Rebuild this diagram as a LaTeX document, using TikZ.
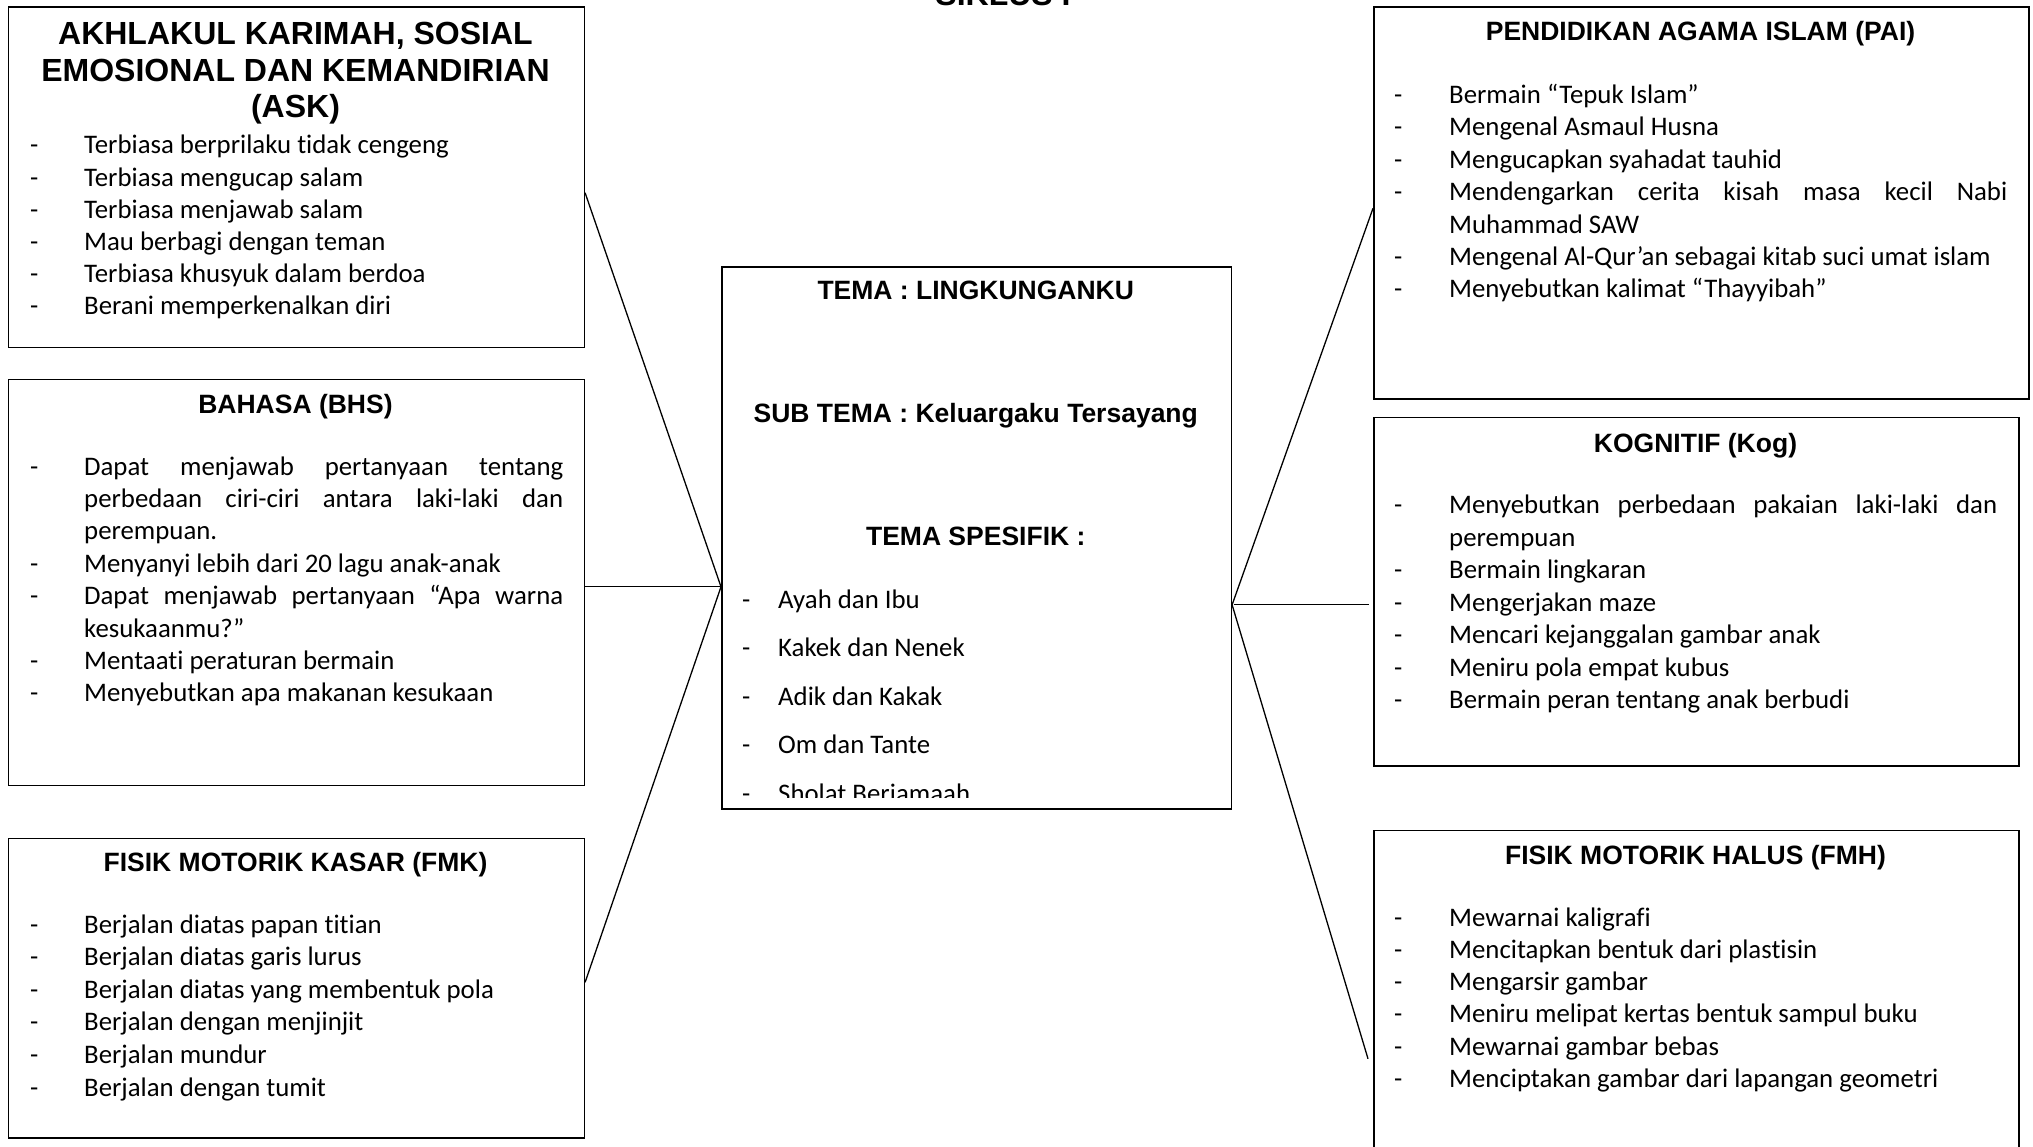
\documentclass[tikz,border=0pt]{standalone}
\usepackage{fontspec}
\setmainfont{Carlito}[Ligatures=NoCommon]
\newfontfamily\headfont{Liberation Sans}
\newlength\dw
\newcommand\itm[1]{\makebox[\dw][l]{-}#1\par}
\newcommand\jitm[2]{\makebox[\dw][l]{-}\makebox[#1][s]{#2}\par}
\newcommand\jcnt[2]{\hspace*{\dw}\makebox[#1][s]{#2}\par}
\newcommand\cnt[1]{\hspace*{\dw}#1\par}
\tikzset{
  box/.style={draw, line width=1.6pt, inner sep=0pt, anchor=north west},
  conn/.style={line width=1.3pt},
  head/.style={font=\headfont\bfseries\fontsize{26.5}{30}\selectfont, inner sep=0pt, anchor=base},
  bighead/.style={font=\headfont\bfseries\fontsize{32}{36.5}\selectfont, inner sep=0pt, anchor=base},
  txt/.style={inner sep=0pt, anchor=base west},
}
\begin{document}
\begin{tikzpicture}[x=1pt,y=-1pt]
\clip (0,0) rectangle (2033,1147);
\fill[white] (0,0) rectangle (2033,1147);

% title (cut off at the top, as in the reference)
\node[bighead] (title) at (1003,5.5) {SIKLUS I};

% boxes
\node[box, minimum width=576pt, minimum height=340.5pt] (ask) at (7.5,6) {};
\node[box, minimum width=576pt, minimum height=406pt] (bhs) at (7.5,378.5) {};
\node[box, minimum width=576pt, minimum height=299.5pt] (fmk) at (7.5,837.5) {};
\node[box, minimum width=509.5pt, minimum height=542pt] (ctr) at (721,266) {};
\node[box, minimum width=655pt, minimum height=391.5pt] (pai) at (1373,6.5) {};
\node[box, minimum width=645pt, minimum height=348.5pt] (kog) at (1373,416.5) {};
\node[box, minimum width=645pt, minimum height=400pt] (fmh) at (1373,829.5) {};

% connectors
\coordinate (cl) at ([yshift=-49pt]ctr.west);
\coordinate (cr) at ([yshift=-67pt]ctr.east);
\draw[conn] ([yshift=-15.75pt]ask.east) -- (cl);
\draw[conn] ([yshift=-4.5pt]bhs.east) -- (cl);
\draw[conn] ([yshift=5.75pt]fmk.east) -- (cl);
\draw[conn] (cr) -- ([yshift=-5.25pt]pai.west);
\draw[conn] ([xshift=2pt]cr) -- ([xshift=-4pt,yshift=-13.25pt]kog.west);
\draw[conn] (cr) -- ([xshift=-5pt,yshift=-28.5pt]fmh.west);

% ASK
\node[bighead] (askh) at (295.5,45) {\parbox[t]{570pt}{\centering AKHLAKUL KARIMAH, SOSIAL\\EMOSIONAL DAN KEMANDIRIAN\\(ASK)}};
\node[txt] (askl) at (30,154) {\parbox[t]{540pt}{\setlength\dw{54pt}\fontsize{26.8}{32.1}\selectfont\raggedright
\itm{Terbiasa berprilaku tidak cengeng}
\itm{Terbiasa mengucap salam}
\itm{Terbiasa menjawab salam}
\itm{Mau berbagi dengan teman}
\itm{Terbiasa khusyuk dalam berdoa}
\itm{Berani memperkenalkan diri}}};

% BHS
\node[head] (bhsh) at (295.5,413) {BAHASA (BHS)};
\node[txt] (bhsl) at (30,475) {\parbox[t]{540pt}{\setlength\dw{54pt}\fontsize{26.8}{32.4}\selectfont\raggedright
\jitm{479pt}{Dapat menjawab pertanyaan tentang}
\jcnt{479pt}{perbedaan ciri-ciri antara laki-laki dan}
\cnt{perempuan.}
\itm{Menyanyi lebih dari 20 lagu anak-anak}
\jitm{479pt}{Dapat menjawab pertanyaan “Apa warna}
\cnt{kesukaanmu?”}
\itm{Mentaati peraturan bermain}
\itm{Menyebutkan apa makanan kesukaan}}};

% FMK
\node[head] (fmkh) at (295.5,871) {FISIK MOTORIK KASAR (FMK)};
\node[txt] (fmkl) at (30,933) {\parbox[t]{540pt}{\setlength\dw{54pt}\fontsize{26.8}{32.6}\selectfont\raggedright
\itm{Berjalan diatas papan titian}
\itm{Berjalan diatas garis lurus}
\itm{Berjalan diatas yang membentuk pola}
\itm{Berjalan dengan menjinjit}
\itm{Berjalan mundur}
\itm{Berjalan dengan tumit}}};

% centre
\node[head] (ctrh1) at (975.75,299.5) {TEMA : LINGKUNGANKU};
\node[head] (ctrh2) at (975.75,422) {SUB TEMA : Keluargaku Tersayang};
\node[head] (ctrh3) at (975.75,545) {TEMA SPESIFIK :};
\begin{scope}
\clip (721,266) rectangle (1230.5,797.5);
\node[txt] (ctrl) at (742,608) {\parbox[t]{440pt}{\setlength\dw{36pt}\fontsize{26.8}{48.5}\selectfont\raggedright
\itm{Ayah dan Ibu}
\itm{Kakek dan Nenek}
\itm{Adik dan Kakak}
\itm{Om dan Tante}
\itm{Sholat Berjamaah}}};
\end{scope}

% PAI
\node[head] (paih) at (1700.5,41) {PENDIDIKAN AGAMA ISLAM (PAI)};
\node[txt] (pail) at (1394,103.5) {\parbox[t]{630pt}{\setlength\dw{55pt}\fontsize{26.8}{32.4}\selectfont\raggedright
\itm{Bermain “Tepuk Islam”}
\itm{Mengenal Asmaul Husna}
\itm{Mengucapkan syahadat tauhid}
\jitm{558pt}{Mendengarkan cerita kisah masa kecil Nabi}
\cnt{Muhammad SAW}
\itm{Mengenal Al-Qur’an sebagai kitab suci umat islam}
\itm{Menyebutkan kalimat “Thayyibah”}}};

% KOG
\node[head] (kogh) at (1695.5,452) {KOGNITIF (Kog)};
\node[txt] (kogl) at (1394,513.5) {\parbox[t]{630pt}{\setlength\dw{55pt}\fontsize{26.8}{32.5}\selectfont\raggedright
\jitm{548pt}{Menyebutkan perbedaan pakaian laki-laki dan}
\cnt{perempuan}
\itm{Bermain lingkaran}
\itm{Mengerjakan maze}
\itm{Mencari kejanggalan gambar anak}
\itm{Meniru pola empat kubus}
\itm{Bermain peran tentang anak berbudi}}};

% FMH
\node[head] (fmhh) at (1695.5,864) {FISIK MOTORIK HALUS (FMH)};
\node[txt] (fmhl) at (1394,926) {\parbox[t]{630pt}{\setlength\dw{55pt}\fontsize{26.8}{32.3}\selectfont\raggedright
\itm{Mewarnai kaligrafi}
\itm{Mencitapkan bentuk dari plastisin}
\itm{Mengarsir gambar}
\itm{Meniru melipat kertas bentuk sampul buku}
\itm{Mewarnai gambar bebas}
\itm{Menciptakan gambar dari lapangan geometri}}};
\end{tikzpicture}
\end{document}
